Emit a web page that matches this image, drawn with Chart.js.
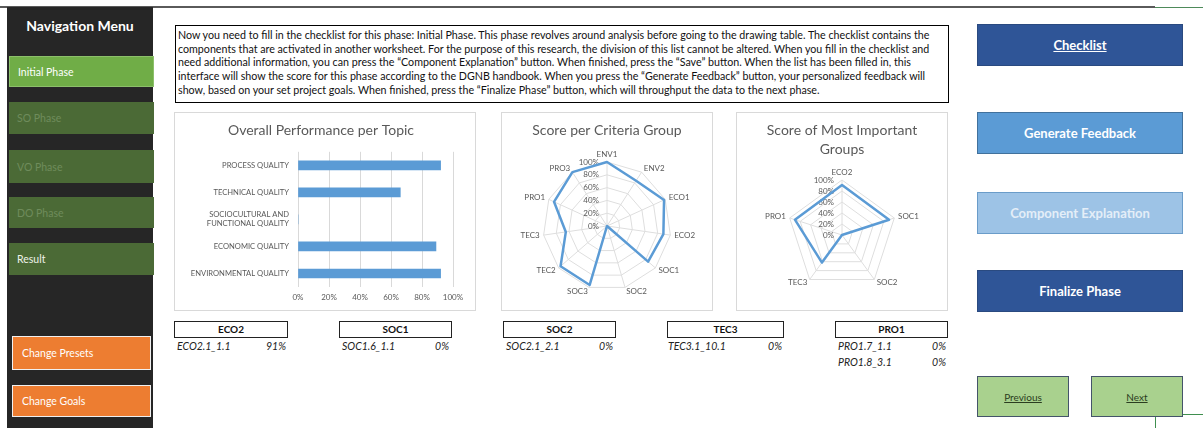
<!DOCTYPE html>
<html>
<head>
<meta charset="utf-8">
<script src="https://cdn.jsdelivr.net/npm/chart.js@4.4.0/dist/chart.umd.min.js"></script>
<style>
body{margin:0;width:1203px;height:428px;overflow:hidden;background:#fff;position:relative;font-family:Lato,'Open Sans',sans-serif;}
.abs{position:absolute;box-sizing:border-box;}
.nav{left:7px;top:7px;width:146px;height:421px;background:#262626;}
.navTitle{left:7px;top:17px;width:146px;text-align:center;color:#fff;font-weight:bold;font-size:14px;line-height:18px;}
.phase{left:9px;width:145px;color:#fff;font-size:10.5px;padding-left:8px;display:flex;align-items:center;}
.off{background:#4b6a36;color:#6f8c5c;}
.orange{left:12px;width:139px;background:#ed7d31;border:1.5px solid #f0f0f0;color:#fff;font-size:10.5px;padding-left:9px;display:flex;align-items:center;}
.btn{left:977px;width:206px;height:42px;display:flex;align-items:center;justify-content:center;color:#fff;font-weight:bold;font-size:13px;border:1px solid #2a4a80;}
.small{top:376px;height:41px;background:#a9d18e;border:1.5px solid #44546a;display:flex;align-items:center;justify-content:center;font-size:10px;color:#2b3d20;text-decoration:underline;}
.panel{border:1px solid #d9d9d9;background:#fff;}
.intro{left:175px;top:25px;width:774px;height:78px;border:1.5px solid #000;padding:2px 0 0 2px;font-size:10.7px;line-height:13.7px;color:#111;white-space:nowrap;}
.head{top:321px;height:17px;border:1.5px solid #222;text-align:center;font-weight:bold;font-size:10px;line-height:14px;color:#111;}
.row{font-style:italic;font-size:10.5px;color:#222;line-height:12px;}
</style>
</head>
<body>
<div class="abs" style="left:0;top:6px;width:1155px;height:2px;background:#5a5a5a"></div>
<div class="abs" style="left:1155px;top:7px;width:48px;height:1px;background:#4e8a5a"></div>
<div class="abs nav"></div>
<div class="abs navTitle">Navigation Menu</div>
<div class="abs phase" style="top:56px;height:31px;background:#70ad47;border:1px solid #8cc06a">Initial Phase</div>
<div class="abs phase off" style="top:102px;height:32px">SO Phase</div>
<div class="abs phase off" style="top:150px;height:33px">VO Phase</div>
<div class="abs phase off" style="top:197px;height:31px">DO Phase</div>
<div class="abs phase off" style="top:243px;height:32px;color:#eef2ea">Result</div>
<div class="abs orange" style="top:336px;height:34px">Change Presets</div>
<div class="abs orange" style="top:385px;height:32px">Change Goals</div>

<div class="abs intro">Now you need to fill in the checklist for this phase: Initial Phase. This phase revolves around analysis before going to the drawing table. The checklist contains the<br>components that are activated in another worksheet. For the purpose of this research, the division of this list cannot be altered. When you fill in the checklist and<br>need additional information, you can press the “Component Explanation” button. When finished, press the “Save” button. When the list has been filled in, this<br>interface will show the score for this phase according to the DGNB handbook. When you press the “Generate Feedback” button, your personalized feedback will<br>show, based on your set project goals. When finished, press the “Finalize Phase” button, which will throughput the data to the next phase.</div>

<div class="abs panel" style="left:174px;top:112px;width:302px;height:199px"><canvas id="topicChart" width="300" height="197"></canvas></div>
<div class="abs panel" style="left:501px;top:112px;width:212px;height:199px"><canvas id="groupChart" width="210" height="197"></canvas></div>
<div class="abs panel" style="left:736px;top:112px;width:212px;height:199px"><canvas id="keyChart" width="210" height="197"></canvas></div>

<div class="abs head" style="left:174px;width:114px">ECO2</div>
<div class="abs head" style="left:339px;width:113px">SOC1</div>
<div class="abs head" style="left:503px;width:113px">SOC2</div>
<div class="abs head" style="left:667px;width:117px">TEC3</div>
<div class="abs head" style="left:835px;width:113px">PRO1</div>
<div class="abs row" style="left:177px;top:340px">ECO2.1_1.1</div><div class="abs row" style="left:256px;top:340px;width:30px;text-align:right">91%</div>
<div class="abs row" style="left:342px;top:340px">SOC1.6_1.1</div><div class="abs row" style="left:419px;top:340px;width:30px;text-align:right">0%</div>
<div class="abs row" style="left:506px;top:340px">SOC2.1_2.1</div><div class="abs row" style="left:583px;top:340px;width:30px;text-align:right">0%</div>
<div class="abs row" style="left:668px;top:340px">TEC3.1_10.1</div><div class="abs row" style="left:752px;top:340px;width:30px;text-align:right">0%</div>
<div class="abs row" style="left:838px;top:340px">PRO1.7_1.1</div><div class="abs row" style="left:916px;top:340px;width:30px;text-align:right">0%</div>
<div class="abs row" style="left:838px;top:356px">PRO1.8_3.1</div><div class="abs row" style="left:916px;top:356px;width:30px;text-align:right">0%</div>

<div class="abs btn" style="top:24px;background:#2f5597;text-decoration:underline">Checklist</div>
<div class="abs btn" style="top:112px;background:#5b9bd5;border-color:#41719c">Generate Feedback</div>
<div class="abs btn" style="top:192px;background:#9dc3e6;border-color:#6a9cc9;color:#e4eef8">Component Explanation</div>
<div class="abs btn" style="top:270px;background:#2f5597">Finalize Phase</div>
<div class="abs small" style="left:977px;width:92px">Previous</div>
<div class="abs small" style="left:1091px;width:92px">Next</div>
<div class="abs" style="left:1183px;top:414px;width:20px;height:1px;background:#3f8f4f"></div>
<div class="abs" style="left:1155px;top:417px;width:1px;height:11px;background:#3f8f4f"></div>

<script>
// chart data
const topicLabels = ['PROCESS QUALITY', 'TECHNICAL QUALITY', ['SOCIOCULTURAL AND', 'FUNCTIONAL QUALITY'], 'ECONOMIC QUALITY', 'ENVIRONMENTAL QUALITY'];
const topicScores = [92, 66, 0, 89, 92];
const groupLabels = ['ENV1', 'ENV2', 'ECO1', 'ECO2', 'SOC1', 'SOC2', 'SOC3', 'TEC2', 'TEC3', 'PRO1', 'PRO3'];
const groupScores = [100, 84, 98, 89, 85, 0, 96, 96, 65, 91, 100];
const keyLabels = ['ECO2', 'SOC1', 'SOC2', 'TEC3', 'PRO1'];
const keyScores = [91, 90, 0, 62, 90];
const pctStep = 20;

Chart.defaults.font.family = 'Lato, "Open Sans", sans-serif';
Chart.defaults.color = '#595959';

const pct = v => v + '%';

// draws excel-like radar labels: tick values left of the axis, names outside
const radarText = {
  id: 'radarText',
  beforeDatasetsDraw(chart) {
    const r = chart.scales.r, ctx = chart.ctx;
    ctx.save();
    ctx.font = '8px Lato';
    ctx.fillStyle = '#595959';
    ctx.textAlign = 'right';
    ctx.textBaseline = 'middle';
    r.ticks.forEach(t => {
      ctx.fillText(pct(t.value), r.xCenter - 8, r.yCenter - r.getDistanceFromCenterForValue(t.value));
    });
    const n = chart.data.labels.length;
    chart.data.labels.forEach((lab, i) => {
      const a = i * 2 * Math.PI / n;
      const p = r.getPointPosition(i, r.drawingArea + 4);
      const s = Math.sin(a), c = Math.cos(a);
      ctx.textAlign = Math.abs(s) < 0.05 ? 'center' : (s > 0 ? 'left' : 'right');
      ctx.textBaseline = c > 0.99 ? 'bottom' : (c < -0.99 ? 'top' : 'middle');
      ctx.fillText(lab, p.x, p.y);
    });
    ctx.restore();
  }
};

new Chart(document.getElementById('topicChart'), {
  type: 'bar',
  data: {
    labels: topicLabels,
    datasets: [{ data: topicScores, backgroundColor: '#5b9bd5', barThickness: 9 }]
  },
  options: {
    indexAxis: 'y',
    responsive: false,
    animation: false,
    devicePixelRatio: 1,
    layout: { padding: { left: 14, right: 22, top: 0, bottom: 0 } },
    plugins: {
      legend: { display: false },
      tooltip: { enabled: false },
      title: { display: true, text: 'Overall Performance per Topic', color: '#595959', font: { size: 14, weight: 'normal' }, padding: { top: 9, bottom: 13 } }
    },
    scales: {
      x: {
        min: 0, max: 100,
        ticks: { stepSize: pctStep, callback: pct, font: { size: 8 }, padding: 6 },
        grid: { color: '#d9d9d9', drawTicks: false },
        border: { display: false },
        afterFit: s => { s.height = 23; }
      },
      y: {
        ticks: { font: { size: 7.6 }, padding: 9 },
        grid: { display: false, drawTicks: false },
        border: { display: false },
        afterFit: s => { s.width = 109; }
      }
    }
  }
});

function radar(id, labels, values, title, titlePad, pad) {
  return new Chart(document.getElementById(id), {
    type: 'radar',
    data: {
      labels: labels,
      datasets: [{ data: values, borderColor: '#5b9bd5', borderWidth: 2.5, backgroundColor: 'transparent', fill: false, pointRadius: 0, borderJoinStyle: 'round' }]
    },
    options: {
      responsive: false,
      animation: false,
      devicePixelRatio: 1,
      layout: { padding: pad },
      plugins: {
        legend: { display: false },
        tooltip: { enabled: false },
        title: { display: true, text: title, color: '#595959', font: { size: 14, weight: 'normal', lineHeight: 1.36 }, padding: titlePad }
      },
      scales: {
        r: {
          min: 0, max: 100,
          ticks: { display: false, stepSize: pctStep },
          grid: { color: '#dedede' },
          angleLines: { color: '#dedede' },
          pointLabels: { display: false }
        }
      }
    },
    plugins: [radarText]
  });
}

radar('groupChart', groupLabels, groupScores, 'Score per Criteria Group', { top: 7.5, bottom: 22.2 }, { left: 0, right: 0, top: 0, bottom: 18.3 });
radar('keyChart', keyLabels, keyScores, ['Score of Most Important', 'Groups'], { top: 7.5, bottom: 22.4 }, { left: 0, right: 0, top: 0, bottom: 19 });
</script>
</body>
</html>
